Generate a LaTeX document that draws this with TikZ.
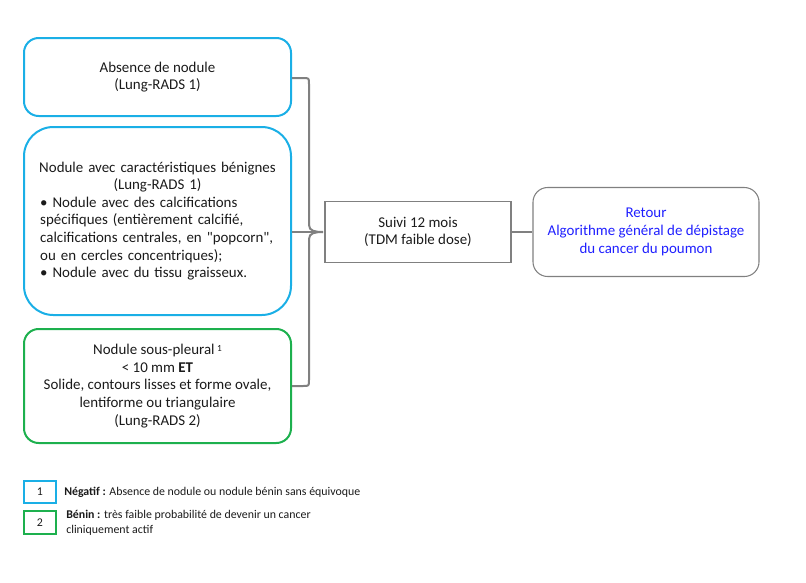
\documentclass[tikz,border=0pt]{standalone}
\usepackage{fontspec}
\setmainfont{Carlito}
\definecolor{cblue}{HTML}{1AAFE6}
\definecolor{cgreen}{HTML}{1DB04E}
\definecolor{cgray}{HTML}{808080}
\definecolor{ctext}{HTML}{1A1A1A}
\definecolor{clink}{HTML}{1F1FFF}
\begin{document}
\begin{tikzpicture}[x=0.75pt,y=-0.75pt,
  every node/.style={text=ctext},
  mainfont/.style={font=\fontsize{11.2}{13.2}\selectfont},
  legfont/.style={font=\fontsize{8.9}{11.4}\selectfont},
  bluebox/.style={draw=cblue,line width=1.5pt,rounded corners=11pt,minimum width=200.25pt,align=center,mainfont},
  greenbox/.style={draw=cgreen,line width=1.5pt,rounded corners=11pt,minimum width=200.25pt,align=center,mainfont},
  graybox/.style={draw=cgray,line width=0.8pt,align=center,mainfont},
  legbox/.style={line width=1.5pt,minimum width=24pt,inner sep=0pt,legfont},
  conn/.style={draw=cgray,line width=1.5pt}]
\useasboundingbox (0,0) rectangle (806,582);
\node[bluebox,minimum height=58.5pt] (b1) at (157.5,77) {Absence de nodule\\(Lung-RADS 1)};
\node[bluebox,minimum height=141pt,rounded corners=22pt,text width=176pt,inner sep=0pt] (b2) at (157.5,221)
 {\makebox[\linewidth][c]{Nodule avec caractéristiques bénignes}\par
  {\centering (Lung-RADS 1)\par}
  \raggedright • Nodule avec des calcifications\\
  spécifiques (entièrement calcifié,\\
  calcifications centrales, en \textquotedbl popcorn\textquotedbl,\\
  ou en cercles concentriques);\\
  • Nodule avec du tissu graisseux.\par};
\node[greenbox,minimum height=85.5pt] (b3) at (157.5,386) {Nodule sous-pleural\,\raisebox{0.5ex}{\fontsize{7}{7}\selectfont 1}\\\textless{} 10 mm \textbf{ET}\\Solide, contours lisses et forme ovale,\\lentiforme ou triangulaire\\(Lung-RADS 2)};
\node[graybox,minimum width=139.5pt,minimum height=45.75pt] (s) at (418,232) {Suivi 12 mois\\(TDM faible dose)};
\node[graybox,rounded corners=11pt,minimum width=169.5pt,minimum height=66.75pt,text=clink] (r) at (646,232) {Retour\\Algorithme général de dépistage\\du cancer du poumon};
\coordinate (p) at (323,232);
\draw[conn] (b1.east |- 0,78) -- (303,78) .. controls (309,78) .. (309,84) -- (309,225) .. controls (309,231) and (315,232) .. (p);
\draw[conn] (b3.east |- 0,386) -- (303,386) .. controls (309,386) .. (309,380) -- (309,239) .. controls (309,233) and (315,232) .. (p);
\draw[conn] (b2.east |- p) -- (p);
\draw[conn] (s.east) -- (s.east -| r.west);
\node[legbox,draw=cblue,minimum height=16.5pt] (l1) at (40,492) {1};
\node[legbox,draw=cgreen,minimum height=17.25pt] (l2) at (40,522.5) {2};
\node[legfont,anchor=west,inner sep=0pt] (t1) at (64,492) {\textbf{Négatif :} Absence de nodule ou nodule bénin sans équivoque};
\node[legfont,anchor=north west,align=left,inner sep=0pt] (t2) at (66,510) {\textbf{Bénin :} très faible probabilité de devenir un cancer\\cliniquement actif};
\end{tikzpicture}
\end{document}
